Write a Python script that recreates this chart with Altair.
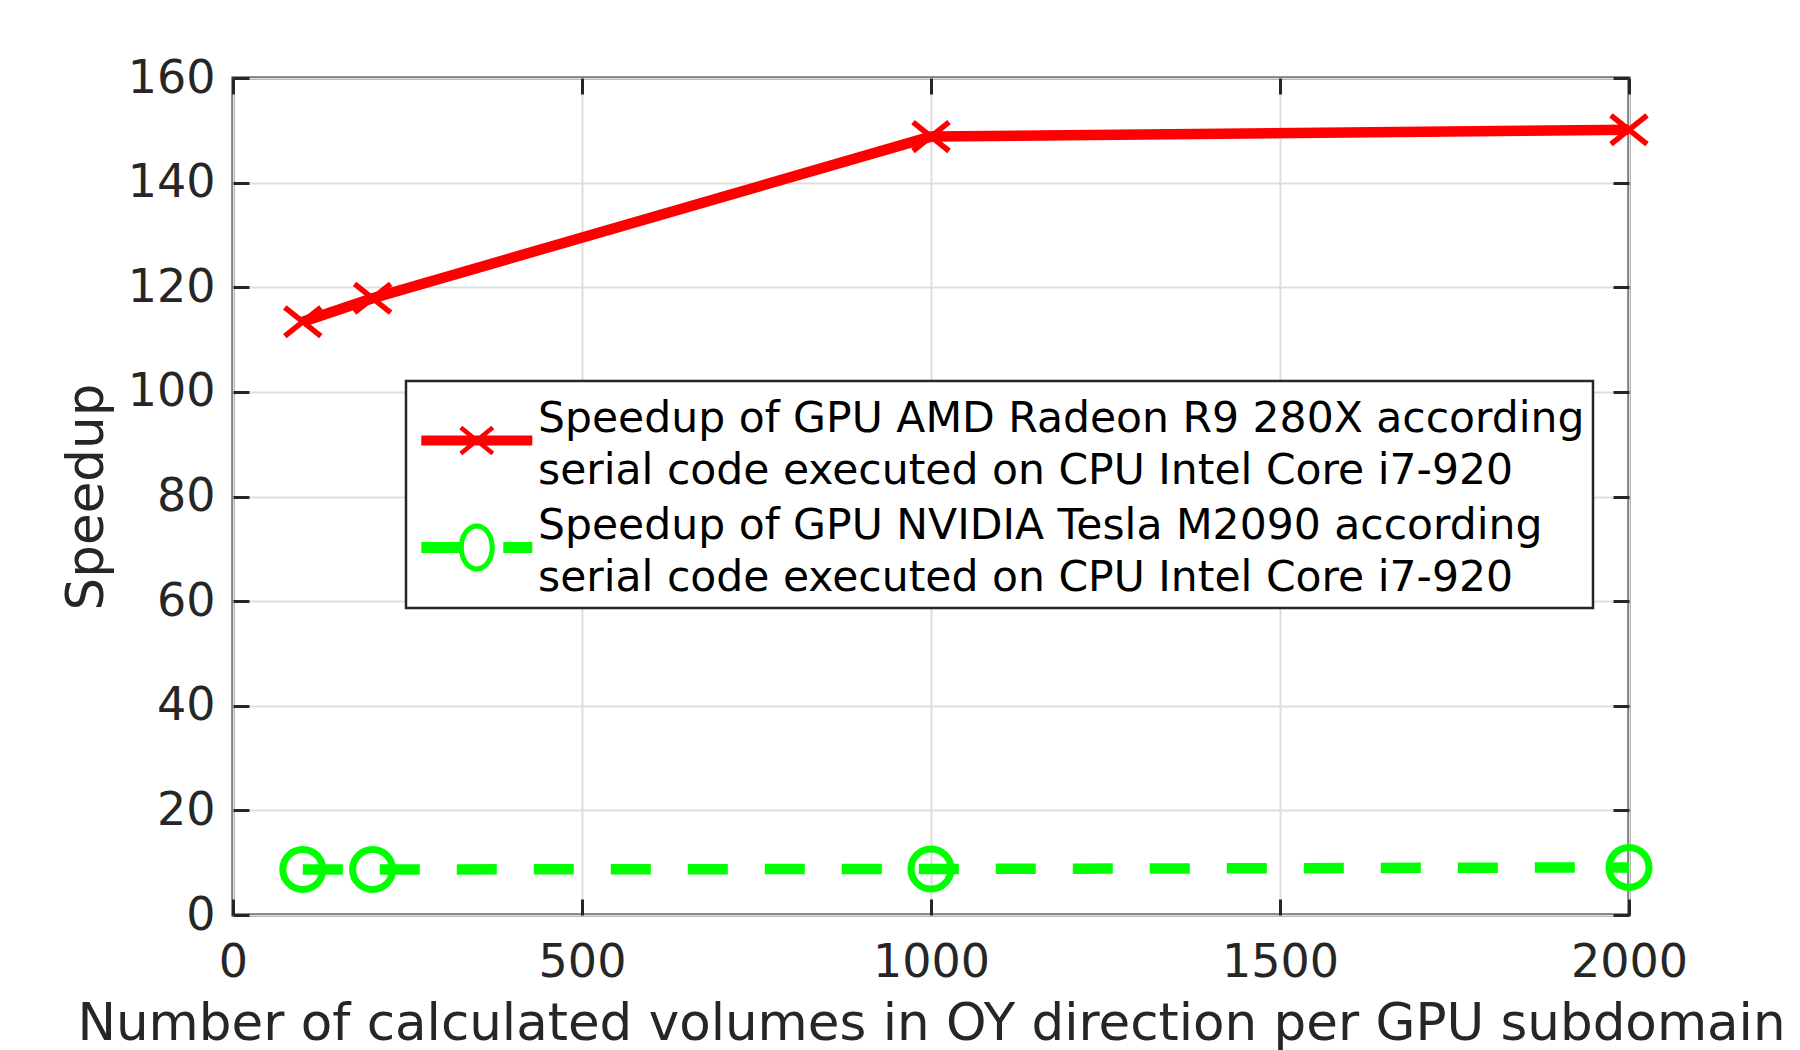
import math
import altair as alt
import pandas as pd

# ---------------- data ----------------
volumes = [100, 200, 1000, 2000]
amd_speedup = [113.4, 117.9, 148.8, 150.1]
nvidia_speedup = [8.7, 8.7, 8.8, 9.1]
series_names = [
    "Speedup of GPU AMD Radeon R9 280X according|serial code executed on CPU Intel Core i7-920",
    "Speedup of GPU NVIDIA Tesla M2090 according|serial code executed on CPU Intel Core i7-920",
]
x_ticks = [0, 500, 1000, 1500, 2000]
y_ticks = [0, 20, 40, 60, 80, 100, 120, 140, 160]
x_title = "Number of calculated volumes in OY direction per GPU subdomain"
y_title = "Speedup"

df = pd.DataFrame({
    "volumes": volumes + volumes,
    "speedup": amd_speedup + nvidia_speedup,
    "series": [series_names[0]] * len(volumes) + [series_names[1]] * len(volumes),
})

# ---------------- style ----------------
W, H = 1396, 837
RED, GREEN = "#ff0000", "#00ff00"
DARK = "#262626"
FONT = "DejaVu Sans"
LINE_H = 52

xs = alt.Scale(domain=[0, 2000], nice=False, zero=False)
ys = alt.Scale(domain=[0, 160], nice=False, zero=False)
color_scale = alt.Scale(domain=series_names, range=[RED, GREEN])

# legend symbols: unit = sqrt(size)/2 px; shifted down to centre on two-line label
LEG_D = 60
U = LEG_D / 2.0
HALF = 55.5 / U
DY = 21.5 / U


def poly(pts):
    pts = [(x, y + DY) for x, y in pts]
    area = sum(pts[i][0] * pts[(i + 1) % len(pts)][1] - pts[(i + 1) % len(pts)][0] * pts[i][1]
               for i in range(len(pts)))
    if area < 0:
        pts = pts[::-1]
    return "M" + "L".join(f"{x:.4f},{y:.4f}" for x, y in pts) + "Z"


def thick_line(x1, y1, x2, y2, t):
    dx, dy = x2 - x1, y2 - y1
    ln = math.hypot(dx, dy)
    nx, ny = -dy / ln * t, dx / ln * t
    return poly([(x1 + nx, y1 + ny), (x2 + nx, y2 + ny), (x2 - nx, y2 - ny), (x1 - nx, y1 - ny)])


def rect(x1, x2, t):
    return poly([(x1, -t), (x2, -t), (x2, t), (x1, t)])


def ring(rx, ry, t):
    ix, iy = rx - t, ry - t
    c = f"{DY:.4f}"
    return (f"M{-rx:.4f},{c}A{rx:.4f},{ry:.4f} 0 1 1 {rx:.4f},{c}A{rx:.4f},{ry:.4f} 0 1 1 {-rx:.4f},{c}Z"
            f"M{-ix:.4f},{c}A{ix:.4f},{iy:.4f} 0 1 0 {ix:.4f},{c}A{ix:.4f},{iy:.4f} 0 1 0 {-ix:.4f},{c}Z")


red_leg = (rect(-HALF, HALF, 5 / U)
           + thick_line(-16 / U, -13 / U, 16 / U, 13 / U, 2.3 / U)
           + thick_line(-16 / U, 13 / U, 16 / U, -13 / U, 2.3 / U))
green_leg = (rect(-HALF, -15.5 / U, 5.5 / U) + rect(26.5 / U, HALF, 5.5 / U)
             + ring(18 / U, 24 / U, 5 / U))

X_SHAPE = "M-1,-0.8L1,0.8M-1,0.8L1,-0.8"

base = alt.Chart(df)
amd = base.transform_filter(alt.datum.series == series_names[0])
nv = base.transform_filter(alt.datum.series == series_names[1])

x_main = alt.X("volumes:Q", scale=xs, axis=alt.Axis(
    values=x_ticks, title=x_title, grid=True, ticks=False, tickSize=0, domain=False,
    labelPadding=25, titlePadding=13, orient="bottom", format="d", labelFlush=False))
y_main = alt.Y("speedup:Q", scale=ys, axis=alt.Axis(
    values=y_ticks, title=y_title, grid=True, ticks=False, tickSize=0, domain=False,
    labelPadding=18, titlePadding=14, orient="left", format="d", labelFlush=False))

x_none = alt.X("volumes:Q", scale=xs, axis=None)
y_none = alt.Y("speedup:Q", scale=ys, axis=None)

red_line = amd.mark_line(strokeWidth=10.5, color=RED).encode(x=x_main, y=y_main)
green_line = nv.mark_line(strokeWidth=10.5, color=GREEN, strokeDash=[40, 37]).encode(x=x_none, y=y_none)

red_pts = amd.mark_point(
    shape=X_SHAPE, size=1300, strokeWidth=5.5, filled=False, opacity=1, color=RED
).encode(x=x_none, y=y_none)

green_pts = nv.mark_point(
    shape="circle", size=1600, strokeWidth=7, filled=False, opacity=1, color=GREEN
).encode(x=x_none, y=y_none)

LEG_PAD = 8
SYM_OFF = 70.8 - LEG_PAD - U
leg = alt.Legend(
    title=None, orient="none", legendX=173, legendY=303, padding=LEG_PAD,
    labelExpr="split(datum.label, '|')", labelLimit=3000,
    symbolSize=LEG_D ** 2, symbolOpacity=1, symbolStrokeWidth=0,
    symbolOffset=SYM_OFF, labelOffset=132 - LEG_PAD - SYM_OFF - LEG_D,
    rowPadding=3,
)
legend_layer = base.mark_point(filled=True, opacity=0, size=LEG_D ** 2, strokeWidth=0).encode(
    x=x_none, y=y_none,
    color=alt.Color("series:N", scale=color_scale, legend=leg),
    shape=alt.Shape("series:N", scale=alt.Scale(domain=series_names, range=[red_leg, green_leg]), legend=leg),
)


def tick_axis(orient, values, offset):
    return alt.Axis(orient=orient, offset=offset, values=values, labels=False, domain=False,
                    grid=False, ticks=True, tickSize=16, tickWidth=3, tickColor=DARK, title=None)


ticks_a = base.mark_point(opacity=0).encode(
    x=alt.X("volumes:Q", scale=xs, axis=tick_axis("top", x_ticks, -H)),
    y=alt.Y("speedup:Q", scale=ys, axis=tick_axis("right", y_ticks, -W)),
)
ticks_b = base.mark_point(opacity=0).encode(
    x=alt.X("volumes:Q", scale=xs, axis=tick_axis("bottom", x_ticks, -H)),
    y=alt.Y("speedup:Q", scale=ys, axis=tick_axis("left", y_ticks, -W)),
)

chart = (
    alt.layer(red_line, green_line, red_pts, green_pts, legend_layer, ticks_a, ticks_b)
    .resolve_axis(x="independent", y="independent")
    .properties(
        width=W, height=H,
        padding={"left": 225, "top": 70, "right": 163, "bottom": 135},
        autosize=alt.AutoSizeParams(type="none"),
        background="white",
    )
    .configure(style={"guide-label": {"lineHeight": LINE_H}})
    .configure_view(stroke=DARK, strokeWidth=3)
    .configure_axis(
        labelFont=FONT, titleFont=FONT, labelFontSize=46, titleFontSize=51.5,
        labelColor=DARK, titleColor=DARK, titleFontWeight="normal",
        gridColor="#dedede", gridWidth=2, gridOpacity=1,
    )
    .configure_legend(
        labelFont=FONT, labelFontSize=42.5, labelColor="black",
        strokeColor=DARK, strokeWidth=2.5, fillColor="white", cornerRadius=0,
    )
)

chart.save("out.html", embed_options={"renderer": "svg", "actions": False})
